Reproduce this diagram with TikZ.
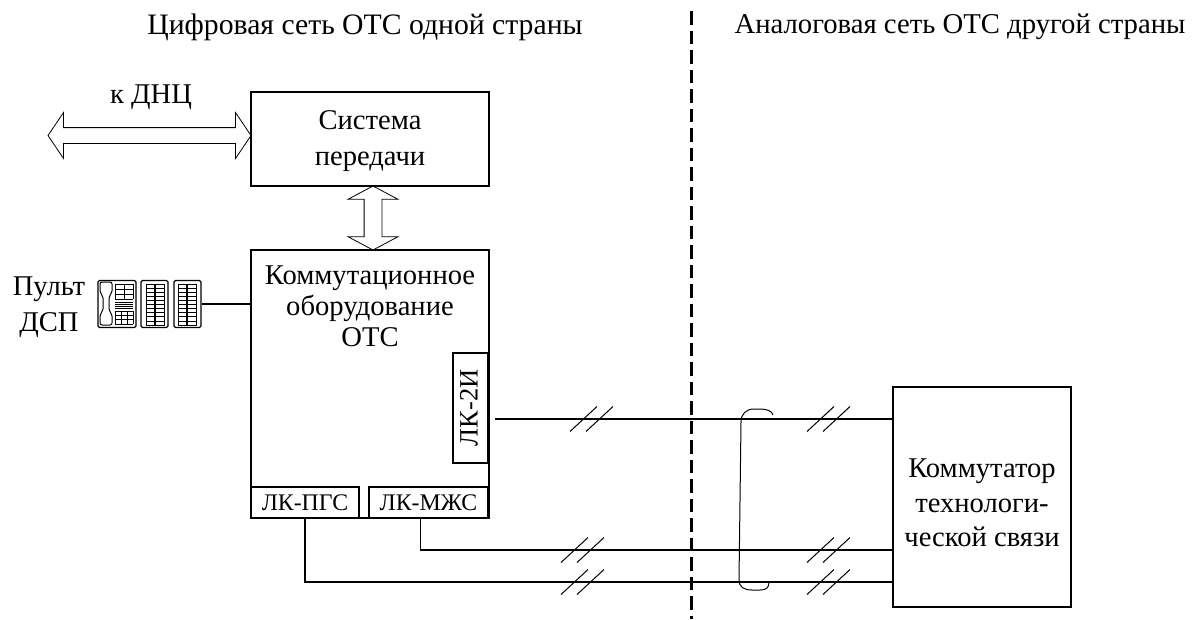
\documentclass[tikz,border=0pt]{standalone}
\usepackage{fontspec}
\setmainfont{Liberation Serif}
\usetikzlibrary{shapes.arrows}
\tikzset{
    block/.style={rectangle, draw=black, line width=1.2pt, inner sep=0pt, outer sep=0pt, align=center},
    lkbox/.style={rectangle, draw=black, line width=1.2pt, inner sep=0pt, outer sep=0pt, font=\fontsize{23.8}{26}\selectfont},
    caption/.style={font=\fontsize{29.7}{32}\selectfont, inner sep=0pt},
    label/.style={font=\fontsize{28.6}{36}\selectfont, align=center, inner sep=0pt},
    wide/.style={double arrow, draw=black, line width=0.8pt, inner sep=0pt, outer sep=0pt, double arrow head indent=0pt},
    wire/.style={draw=black, line width=1.2pt},
    hatch/.style={draw=black, line width=1pt},
    panel/.style={rectangle, draw=black, line width=1.3pt, rounded corners=1.5pt, inner sep=0pt, minimum height=47pt}
}
\newcommand{\wirehatch}[2]{
    \draw[hatch] (#1,#2+12.5) -- ++(27,-25);
    \draw[hatch] (#1+16,#2+12.5) -- ++(27,-25);
}
\newcommand{\keycolumn}[3]{
    \draw[line width=0.7pt] (#1,284) rectangle (#1+#2,325);
    \draw[line width=0.7pt] (#1+#2/2-0.8,284) -- (#1+#2/2-0.8,325);
    \draw[line width=0.7pt] (#1+#2/2+0.8,284) -- (#1+#2/2+0.8,325);
    \foreach \k in {1,...,#3} {
        \draw[line width=0.7pt] (#1,284+\k*41/#3) -- (#1+#2,284+\k*41/#3);
    }
}
\begin{document}
\begin{tikzpicture}[x=1pt, y=-1pt]
    \useasboundingbox (0,0) rectangle (1198,619);

    \node[caption] (digital) at (365,27) {Цифровая сеть ОТС одной страны};
    \node[caption, font=\fontsize{28.7}{32}\selectfont] (analog) at (960,27) {Аналоговая сеть ОТС другой страны};

    \coordinate (borderTop) at (691,11);
    \coordinate (borderBot) at (691,619);
    \draw[line width=3pt, dash pattern=on 13.5pt off 6pt] (borderTop) -- (borderBot);

    \node[block, minimum width=238pt, minimum height=94pt] (trans) at (370,139) {};
    \node[label] (transText) at (370,141) {Система\\передачи};
    \node[block, minimum width=238pt, minimum height=268pt] (switch) at (370,384) {};
    \node[label, font=\fontsize{28.6}{31}\selectfont] (switchText) at (370,306) {Коммутационное\\оборудование\\ОТС};
    \node[block, minimum width=178pt, minimum height=220pt] (tech) at (982,497) {};
    \node[label, font=\fontsize{28.6}{34.5}\selectfont] (techText) at (982,503) {Коммутатор\\технологи-\\ческой связи};

    \node[lkbox, minimum width=35pt, minimum height=110pt] (lkTwo) at (470.5,408) {};
    \node[lkbox, draw=none, rotate=90, font=\fontsize{26.5}{28}\selectfont] (lkTwoText) at (469,408) {ЛК-2И};
    \node[lkbox, minimum width=108pt, minimum height=31pt] (lkPgs) at (305,502.5) {ЛК-ПГС};
    \node[lkbox, minimum width=119pt, minimum height=31pt] (lkMzs) at (428.5,502.5) {ЛК-МЖС};

    \node[wide, minimum height=203pt, minimum width=45pt, inner ysep=7.5pt, double arrow head extend=15pt, double arrow tip angle=112] (toDnc) at (149.5,135.5) {};
    \node[label] (dncText) at (151,97) {к ДНЦ};
    \node[wide, shape border rotate=90, minimum height=64pt, minimum width=49pt, inner xsep=8.5pt, double arrow head extend=16pt, double arrow tip angle=124] (link) at (373,218) {};

    \node[label, font=\fontsize{28.6}{36}\selectfont] (pultText) at (49,307) {Пульт\\ДСП};
    \node[panel, minimum width=38pt] (phone) at (117,304) {};
    \node[panel, minimum width=27pt] (keysA) at (154.5,304) {};
    \node[panel, minimum width=27pt] (keysB) at (187.5,304) {};
    \draw[line width=1pt, rounded corners=2pt] (100,282) -- (112,282) -- (112,293) -- (109,296) -- (109,311) -- (112,314) -- (112,325) -- (100,325) -- (100,314) -- (103,311) -- (103,296) -- (100,293) -- cycle;
    \draw[line width=0.7pt, shift={(115,284)}] (0,0) grid[xstep=9pt, ystep=5pt] (18,15);
    \draw[line width=0.7pt, shift={(115,311)}] (0,0) grid[xstep=6pt, ystep=4.4pt] (18,13.2);
    \foreach \y in {302,304,306,308} {
        \draw[line width=0.8pt] (115,\y) -- (133,\y);
    }
    \keycolumn{146}{18}{10}
    \keycolumn{178}{18}{10}

    \draw[wire] (keysB.east) -- (switch.west |- keysB.east);

    \coordinate (lkTwoOut) at (495,419);
    \coordinate (mzsTurn) at (lkMzs.south |- 0,550);
    \coordinate (pgsTurn) at (lkPgs.south |- 0,582);
    \draw[wire] (lkTwoOut) -- (tech.west |- lkTwoOut);
    \draw[wire] ([xshift=-8pt]lkMzs.south) |- (tech.west |- mzsTurn);
    \draw[wire] (lkPgs.south) |- (tech.west |- pgsTurn);

    \wirehatch{570}{419}
    \wirehatch{561}{550}
    \wirehatch{561}{582}
    \wirehatch{807}{419}
    \wirehatch{807}{550}
    \wirehatch{807}{582}

    \coordinate (cableTop) at (773,415);
    \coordinate (cableBot) at (769,582);
    \draw[line width=1pt] (cableTop) .. controls (772,411) and (767,409) .. (760,409)
        -- (754,409) .. controls (746,409) and (741,414) .. (741,422)
        -- (739,580) .. controls (739,587) and (744,590) .. (752,590)
        -- (760,590) .. controls (766,590) and (769,588) .. (cableBot);
\end{tikzpicture}
\end{document}
